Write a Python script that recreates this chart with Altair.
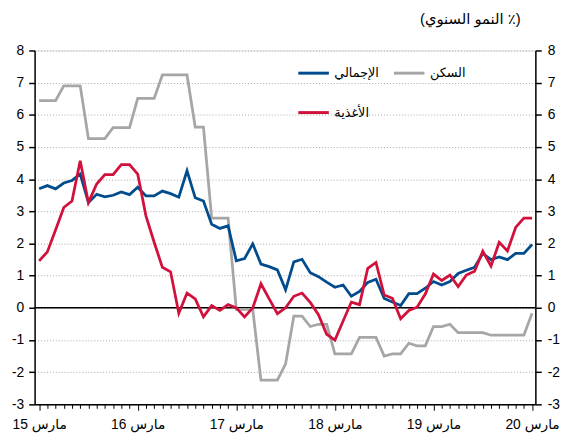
import altair as alt
import pandas as pd

# Monthly index: 0 = March 2015 ... 60 = March 2020
months = list(range(61))

total = [3.70, 3.80, 3.70, 3.88, 3.96, 4.16, 3.27, 3.53, 3.45, 3.50, 3.60, 3.52,
         3.75, 3.48, 3.48, 3.63, 3.55, 3.44, 4.26, 3.42, 3.32, 2.60, 2.47, 2.55,
         1.46, 1.53, 1.99, 1.36, 1.28, 1.18, 0.56, 1.43, 1.51, 1.09, 0.97, 0.80,
         0.64, 0.71, 0.36, 0.51, 0.79, 0.89, 0.29, 0.18, 0.07, 0.44, 0.44, 0.61,
         0.82, 0.71, 0.82, 1.07, 1.17, 1.26, 1.69, 1.50, 1.58, 1.50, 1.69, 1.69,
         1.97]

housing = [6.44, 6.44, 6.44, 6.90, 6.90, 6.90, 5.26, 5.26, 5.26, 5.60, 5.60, 5.60,
           6.51, 6.51, 6.51, 7.24, 7.24, 7.24, 7.24, 5.62, 5.62, 2.79, 2.79, 2.79,
           -0.05, -0.05, -0.05, -2.25, -2.25, -2.25, -1.74, -0.26, -0.26, -0.58, -0.51, -0.51,
           -1.43, -1.43, -1.43, -0.92, -0.92, -0.92, -1.50, -1.43, -1.43, -1.10, -1.18, -1.18,
           -0.58, -0.58, -0.51, -0.77, -0.77, -0.77, -0.77, -0.85, -0.85, -0.85, -0.85, -0.85,
           -0.17]

food = [1.46, 1.74, 2.42, 3.12, 3.32, 4.57, 3.27, 3.85, 4.14, 4.14, 4.45, 4.45,
        4.16, 2.86, 2.04, 1.26, 1.12, -0.17, 0.46, 0.28, -0.28, 0.07, -0.08, 0.10,
        0.00, -0.28, 0.00, 0.75, 0.28, -0.18, 0.00, 0.36, 0.46, 0.17, -0.21, -0.82,
        -1.00, -0.41, 0.18, 0.10, 1.23, 1.41, 0.40, 0.30, -0.34, -0.08, 0.02, 0.43,
        1.05, 0.85, 1.02, 0.66, 1.02, 1.14, 1.76, 1.30, 2.04, 1.77, 2.50, 2.79,
        2.79]

name_total = "الإجمالي"
name_housing = "السكن"
name_food = "الأغذية"
# legend order (column-major in a 2-column legend): total, food | housing
legend_order = [name_total, name_food, name_housing]
legend_colors = ["#004c8c", "#d1103b", "#a6a6a6"]

year_label_pos = [0, 12, 24, 36, 48, 60]
year_labels = ["مارس 15", "مارس 16", "مارس 17", "مارس 18", "مارس 19", "مارس 20"]
y_ticks = list(range(-3, 9))
title_text = "(النمو السنوي ٪)"

FONT = "Liberation Sans, Arial, DejaVu Sans, sans-serif"

rows = []
for name, vals in [(name_housing, housing), (name_total, total), (name_food, food)]:
    for m, v in zip(months, vals):
        rows.append({"m": m, "v": v, "series": name})
df = pd.DataFrame(rows)

label_map = "{" + ",".join(f"'{p}': '{l}'" for p, l in zip(year_label_pos, year_labels)) + "}"
label_expr = f"({label_map})[datum.value] || ''"
y_label_expr = "'' + datum.value"

x_scale = alt.Scale(domain=[-0.55, 60.4], nice=False, zero=False)
y_scale = alt.Scale(domain=[-3, 8], nice=False, zero=False)

x_axis = alt.Axis(
    values=months, labelExpr=label_expr, title=None, grid=False,
    labelOverlap=False, labelFlush=False, labelFontSize=14, labelFont=FONT,
    labelColor="black", domainColor="black", domainWidth=1.5,
    tickColor="black", tickWidth=1,
    tickSize={"condition": {"test": "datum.value % 12 === 0", "value": 6}, "value": 4},
    labelPadding=7,
)

lines = alt.Chart(df).mark_line(strokeWidth=2.8, strokeJoin="miter").encode(
    x=alt.X("m:Q", scale=x_scale, axis=x_axis),
    y=alt.Y("v:Q", scale=y_scale, axis=alt.Axis(
        orient="left", values=y_ticks, labelExpr=y_label_expr, title=None, grid=True,
        gridColor="#a8a8a8", gridDash=[1, 2], gridWidth=1,
        labelFontSize=14, labelFont=FONT, labelColor="black",
        domainColor="black", domainWidth=1.5, tickColor="black",
        tickWidth=1.5, tickSize=6, labelPadding=5)),
    color=alt.Color("series:N",
                    scale=alt.Scale(domain=legend_order, range=legend_colors),
                    legend=alt.Legend(
                        orient="none", legendX=266, legendY=6, columns=2,
                        columnPadding=8, rowPadding=16, title=None, padding=0,
                        symbolType="stroke", symbolSize=961, symbolStrokeWidth=3,
                        labelFontSize=13, labelFont=FONT, labelColor="black",
                        labelOffset=4)),
)

zero_df = pd.DataFrame({"z": [0]})
zero_rule = alt.Chart(zero_df).mark_rule(color="black", strokeWidth=1.5).encode(
    y=alt.Y("z:Q", scale=y_scale, axis=alt.Axis(
        orient="right", values=y_ticks, labelExpr=y_label_expr, title=None, grid=False,
        labelFontSize=14, labelFont=FONT, labelColor="black",
        domainColor="black", domainWidth=1.5, tickColor="black",
        tickWidth=1.5, tickSize=6, labelPadding=6)),
)

title_df = pd.DataFrame({"t": [title_text]})
title_mark = alt.Chart(title_df).mark_text(
    align="right", baseline="middle", fontSize=15, font=FONT, color="black"
).encode(text="t:N", x=alt.value(493), y=alt.value(-32))

chart = alt.layer(zero_rule, lines, title_mark).resolve_scale(y="independent").properties(
    width=508, height=359,
    autosize=alt.AutoSizeParams(type="none"),
    padding={"left": 27, "top": 40, "right": 26, "bottom": 30},
).configure_view(stroke=None).configure(background="white")

chart.save("out.html", embed_options={"renderer": "svg", "actions": False})
